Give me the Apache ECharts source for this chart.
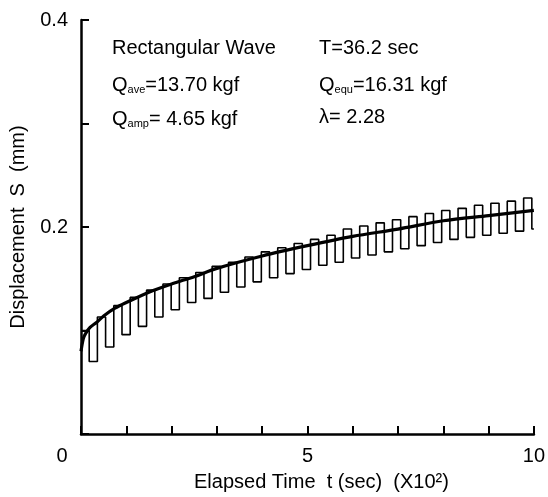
<!DOCTYPE html>
<html>
<head>
<meta charset="utf-8">
<script src="https://cdn.jsdelivr.net/npm/echarts@6/dist/echarts.min.js"></script>
<style>
  html, body { margin: 0; padding: 0; background: #fff; }
  #main { width: 548px; height: 497px; }
</style>
</head>
<body>
<div id="main"></div>
<script>
// smooth creep curve (t in 10^2 sec, S in mm)
var creepTime = [0, 0.05, 0.1, 0.2, 0.35, 0.5, 0.75, 1, 1.5, 2, 2.5, 3, 4, 5, 6, 7, 8, 9, 10];
var creepDisp = [0.080, 0.092, 0.097, 0.103, 0.108, 0.114, 0.1215, 0.127, 0.137, 0.145, 0.152, 0.160, 0.172, 0.182, 0.191, 0.198, 0.206, 0.211, 0.216];

// rectangular wave, one high and one low level per cycle, T = 36.2 sec
var wavePeriod = 0.362;
var waveHigh = [0.100, 0.113, 0.124, 0.132, 0.139, 0.145, 0.151, 0.156, 0.162, 0.166,
                0.171, 0.176, 0.180, 0.184, 0.188, 0.192, 0.198, 0.201, 0.204, 0.207,
                0.210, 0.213, 0.216, 0.218, 0.221, 0.223, 0.225, 0.228];
var waveLow = [0.070, 0.084, 0.096, 0.104, 0.113, 0.120, 0.127, 0.131, 0.137, 0.142,
               0.147, 0.151, 0.155, 0.159, 0.163, 0.166, 0.170, 0.173, 0.176, 0.179,
               0.182, 0.185, 0.188, 0.190, 0.192, 0.194, 0.196, 0.198];

var xTickLabels = [0, 5, 10];
var yTickLabels = [0.2, 0.4];

var font = '"Liberation Sans", Arial, sans-serif';

var creepData = creepTime.map(function (t, i) {
  return [t, creepDisp[i]];
});

var waveData = [];
waveHigh.forEach(function (hi, k) {
  var t0 = k * wavePeriod;
  var tm = t0 + wavePeriod / 2;
  var t1 = Math.min((k + 1) * wavePeriod, 10);
  waveData.push([t0, hi]);
  waveData.push([tm, hi]);
  waveData.push([tm, waveLow[k]]);
  waveData.push([t1, waveLow[k]]);
});

var chart = echarts.init(document.getElementById('main'));

var option = {
  animation: false,
  backgroundColor: '#fff',
  grid: {
    left: 78,
    right: 12,
    top: 20,
    bottom: 63
  },
  xAxis: {
    type: 'value',
    min: 0,
    max: 10,
    interval: 1,
    name: 'Elapsed Time  t (sec)  (X10²)',
    nameLocation: 'middle',
    nameGap: 38,
    nameTextStyle: {
      color: '#000',
      fontSize: 20,
      fontFamily: font,
      padding: [0, 0, 0, 28]
    },
    axisLine: { lineStyle: { color: '#000', width: 2.5 } },
    axisTick: { inside: true, length: 8, lineStyle: { color: '#000', width: 2 } },
    splitLine: { show: false },
    axisLabel: {
      color: '#000',
      fontSize: 20,
      fontFamily: font,
      margin: 12,
      formatter: function (v) {
        if (xTickLabels.indexOf(v) < 0) return '';
        if (v === 0) return '{z|0}';
        return String(v);
      },
      rich: {
        z: { fontSize: 20, fontFamily: font, color: '#000', padding: [0, 38, 6, 0] }
      }
    }
  },
  yAxis: {
    type: 'value',
    min: 0,
    max: 0.4,
    interval: 0.1,
    name: 'Displacement  S  (mm)',
    nameLocation: 'middle',
    nameGap: 53,
    nameTextStyle: {
      color: '#000',
      fontSize: 20,
      fontFamily: font
    },
    axisLine: { show: true, lineStyle: { color: '#000', width: 2.5 } },
    axisTick: { show: true, inside: true, length: 8, lineStyle: { color: '#000', width: 2 } },
    splitLine: { show: false },
    axisLabel: {
      color: '#000',
      fontSize: 20,
      fontFamily: font,
      margin: 13,
      formatter: function (v) {
        var r = Math.round(v * 10) / 10;
        return yTickLabels.indexOf(r) >= 0 ? r.toFixed(1) : '';
      }
    }
  },
  graphic: [
    {
      type: 'text', x: 112, y: 48,
      style: { text: 'Rectangular Wave', font: '20px ' + font, fill: '#000', verticalAlign: 'middle' }
    },
    {
      type: 'text', x: 112, y: 83,
      style: {
        text: '{n|Q}{s|ave}{n|=13.70 kgf}', fill: '#000', verticalAlign: 'middle',
        rich: {
          n: { fontSize: 20, fontFamily: font, color: '#000', verticalAlign: 'bottom', lineHeight: 24 },
          s: { fontSize: 11, fontFamily: font, color: '#000', verticalAlign: 'bottom', lineHeight: 20 }
        }
      }
    },
    {
      type: 'text', x: 112, y: 117,
      style: {
        text: '{n|Q}{s|amp}{n|= 4.65 kgf}', fill: '#000', verticalAlign: 'middle',
        rich: {
          n: { fontSize: 20, fontFamily: font, color: '#000', verticalAlign: 'bottom', lineHeight: 24 },
          s: { fontSize: 11, fontFamily: font, color: '#000', verticalAlign: 'bottom', lineHeight: 20 }
        }
      }
    },
    {
      type: 'text', x: 319, y: 48,
      style: { text: 'T=36.2 sec', font: '20px ' + font, fill: '#000', verticalAlign: 'middle' }
    },
    {
      type: 'text', x: 319, y: 83,
      style: {
        text: '{n|Q}{s|equ}{n|=16.31 kgf}', fill: '#000', verticalAlign: 'middle',
        rich: {
          n: { fontSize: 20, fontFamily: font, color: '#000', verticalAlign: 'bottom', lineHeight: 24 },
          s: { fontSize: 11, fontFamily: font, color: '#000', verticalAlign: 'bottom', lineHeight: 20 }
        }
      }
    },
    {
      type: 'text', x: 319, y: 117,
      style: { text: 'λ= 2.28', font: '20px ' + font, fill: '#000', verticalAlign: 'middle' }
    }
  ],
  series: [
    {
      name: 'wave',
      type: 'line',
      data: waveData,
      symbol: 'none',
      clip: true,
      lineStyle: { color: '#000', width: 1.6 }
    },
    {
      name: 'creep',
      type: 'line',
      data: creepData,
      symbol: 'none',
      smooth: 0.3,
      clip: true,
      lineStyle: { color: '#000', width: 3.2 }
    }
  ]
};

chart.setOption(option);
</script>
</body>
</html>
